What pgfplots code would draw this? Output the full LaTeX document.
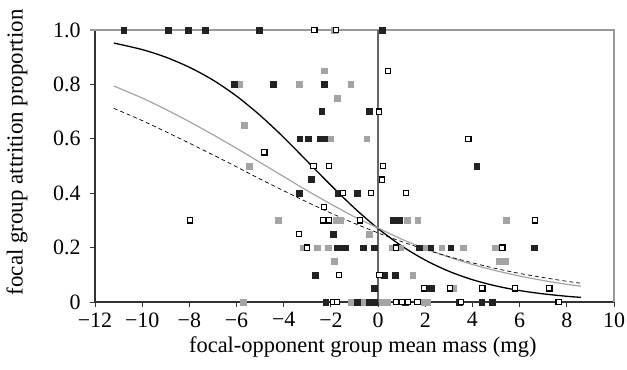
\documentclass[border=0pt]{standalone}
\usepackage{pgfplots}
\pgfplotsset{compat=1.18}
\usepackage{fontspec}
\setmainfont{Liberation Serif}
\definecolor{ptgray}{HTML}{A4A4A4}
\definecolor{ptblack}{HTML}{222222}
\definecolor{boxgray}{HTML}{9A9A9A}
\begin{document}
\fontsize{22}{26}\selectfont
\begin{tikzpicture}
\begin{axis}[
  scale only axis, width=519bp, height=272bp,
  xmin=-12, xmax=10, ymin=0, ymax=1,
  clip=false,
  axis x line*=bottom, axis y line*=left,
  axis line style={-, draw=black!80, line width=1.1bp},
  xtick={-12,-10,...,10},
  xticklabels={−12,−10,−8,−6,−4,−2,0,2,4,6,8,10},
  ytick={0,0.2,0.4,0.6,0.8,1},
  yticklabels={0,0.2,0.4,0.6,0.8,1.0},
  tick align=outside, major tick length=5bp,
  tick style={black!80, line width=0.9bp},
  xtick pos=bottom, ytick pos=left,
  tick label style={font=\fontsize{22}{26}\selectfont},
  xticklabel style={yshift=2bp},
  yticklabel style={xshift=-2bp},
  xlabel={focal-opponent group mean mass (mg)},
  ylabel={focal group attrition proportion},
  xlabel style={font=\fontsize{22.5}{26}\selectfont, at={(axis description cs:0.516,-0.167)}, anchor=center},
  ylabel style={font=\fontsize{23}{26}\selectfont, at={(axis description cs:-0.150,0.55)}, anchor=center},
]
% plot frame
\addplot[boxgray, line width=1.1bp] coordinates {(-12.2,1) (10,1) (10,0)};
\addplot[black!60, line width=1.6bp] coordinates {(0,0) (0,1)};
% fitted curves
\addplot[black, line width=1.3bp, smooth] coordinates {
(-11.2,0.952) (-10,0.928) (-9,0.900) (-8,0.863) (-7,0.816) (-6,0.757) (-5,0.686)
(-4,0.605) (-3,0.517) (-2,0.429) (-1,0.345) (0,0.270) (1,0.206) (2,0.154)
(3,0.113) (4,0.082) (5,0.059) (6,0.042) (7,0.030) (8,0.021) (8.6,0.017)};
\addplot[ptgray, line width=1.2bp, smooth] coordinates {
(-11.2,0.794) (-10,0.750) (-9,0.708) (-8,0.663) (-7,0.615) (-6,0.565) (-5,0.513)
(-4,0.461) (-3,0.409) (-2,0.360) (-1,0.313) (0,0.272) (1,0.231) (2,0.196)
(3,0.165) (4,0.138) (5,0.115) (6,0.0955) (7,0.079) (8,0.065) (8.6,0.058)};
\addplot[black, line width=0.7bp, dash pattern=on 4bp off 3bp, smooth] coordinates {
(-11.2,0.712) (-10,0.667) (-9,0.626) (-8,0.584) (-7,0.541) (-6,0.497) (-5,0.452)
(-4,0.409) (-3,0.367) (-2,0.327) (-1,0.289) (0,0.254) (1,0.222) (2,0.193)
(3,0.167) (4,0.144) (5,0.123) (6,0.105) (7,0.090) (8,0.076) (8.6,0.069)};
% gray squares
\addplot[only marks, mark=square*, mark size=2.9bp, draw=ptgray, fill=ptgray] coordinates {
(-5.9,0.8) (-1.86,1.0) (-2.27,0.85) (-3.33,0.8) (-1.16,0.8) (-1.75,0.75) (-5.68,0.65)
(-2.03,0.6) (-0.48,0.6) (-5.45,0.5) (-4.22,0.3) (-1.78,0.3) (-1.61,0.3) (-0.37,0.25)
(-3.19,0.2) (-2.57,0.2) (-2.13,0.2) (-1.85,0.15) (-5.73,0) (-1.16,0) (-1.05,0)
(-0.69,0) (-0.48,0) (1.22,0.3) (1.68,0.3) (5.42,0.3) (0.58,0.2) (0.93,0.2) (1.99,0.2)
(2.70,0.2) (3.61,0.2) (4.96,0.2) (5.14,0.15) (5.41,0.15) (1.47,0.1) (3.19,0.05)
(0.16,0) (0.37,0) (1.96,0) (2.09,0)};
% black squares
\addplot[only marks, mark=square*, mark size=2.9bp, draw=ptblack, fill=ptblack] coordinates {
(-10.78,1) (-8.9,1) (-8.04,1) (-7.32,1) (-6.09,0.8) (-5.03,1) (0.16,1) (-4.46,0.8)
(-2.30,0.8) (-2.39,0.7) (-0.39,0.7) (-3.32,0.6) (-2.97,0.6) (-2.46,0.6) (-2.30,0.6)
(4.18,0.5) (-2.85,0.45) (-3.35,0.4) (-1.71,0.4) (-0.89,0.4) (-1.89,0.25) (-1.75,0.2)
(-1.57,0.2) (-1.41,0.2) (-0.62,0.2) (-0.16,0.2) (-2.67,0.1) (-0.18,0.05) (-2.22,0)
(-0.90,0) (-0.37,0) (-0.17,0) (0.62,0.3) (0.90,0.3) (1.75,0.2) (2.23,0.2) (3.08,0.2)
(6.62,0.2) (0.25,0.1) (0.72,0.1) (2.09,0.05) (2.26,0.05) (1.14,0) (3.45,0) (4.39,0)
(4.82,0)};
% open squares
\addplot[only marks, mark=square*, mark size=2.6bp, draw=black, fill=white, line width=1.1bp] coordinates {
(-2.70,1) (-1.78,1) (0.04,0.7) (0.41,0.85) (3.83,0.6) (-4.82,0.55) (-2.74,0.5)
(-2.08,0.5) (0.22,0.5) (0.16,0.45) (-1.50,0.4) (-0.30,0.4) (1.17,0.4) (-2.28,0.35)
(-7.97,0.3) (-2.32,0.3) (-2.09,0.3) (-0.76,0.3) (6.65,0.3) (-3.35,0.25) (-3.0,0.2)
(0.76,0.2) (5.27,0.2) (-1.65,0.1) (0.06,0.1) (1.95,0.05) (3.05,0.05) (4.42,0.05)
(5.81,0.05) (7.26,0.05) (-1.89,0) (-1.75,0) (0.75,0) (1.0,0) (1.28,0) (1.67,0)
(3.52,0) (7.65,0)};
\end{axis}
\pgfresetboundingbox
\path (current axis.south west) ++(-95bp,-68bp) rectangle ++(627bp,370bp);
\end{tikzpicture}
\end{document}
